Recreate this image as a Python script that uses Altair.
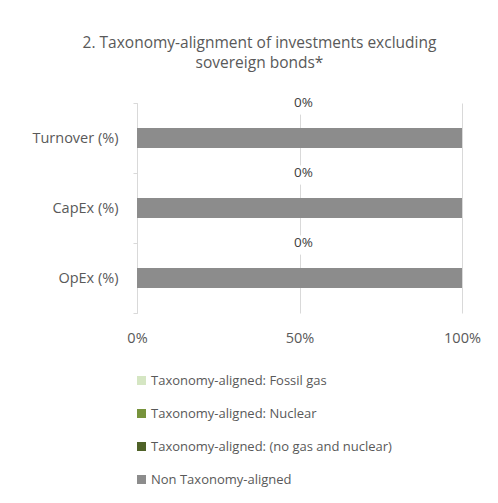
import altair as alt
import pandas as pd

categories = ["Turnover (%)", "CapEx (%)", "OpEx (%)"]
series = [
    "Taxonomy-aligned: Fossil gas",
    "Taxonomy-aligned: Nuclear",
    "Taxonomy-aligned: (no gas and nuclear)",
    "Non Taxonomy-aligned",
]
colors = ["#D5E6C3", "#77933C", "#4F6228", "#8C8C8C"]
fossil_gas = [0.0, 0.0, 0.0]
nuclear = [0.0, 0.0, 0.0]
no_gas_nuclear = [0.0, 0.0, 0.0]
non_aligned = [1.0, 1.0, 1.0]
aligned_label = [0.0, 0.0, 0.0]

rows = []
for i, c in enumerate(categories):
    for s, vals in zip(series, [fossil_gas, nuclear, no_gas_nuclear, non_aligned]):
        rows.append({"category": c, "series": s, "value": vals[i], "order": series.index(s)})
df = pd.DataFrame(rows)
lab = pd.DataFrame({"category": categories, "value": aligned_label, "pos": [0.5] * 3})

FONT = "Open Sans"
GREY = "#595959"

y_enc = alt.Y(
    "category:N",
    sort=categories,
    title=None,
    scale=alt.Scale(domain=categories, paddingInner=0, paddingOuter=0),
    axis=alt.Axis(
        tickBand="extent",
        tickSize=4,
        tickColor="#D9D9D9",
        domainColor="#D9D9D9",
        labelColor=GREY,
        labelFont=FONT,
        labelFontSize=14.5,
        labelPadding=15,
        grid=False,
    ),
)

bars = alt.Chart(df).mark_bar(size=20).encode(
    x=alt.X(
        "value:Q",
        stack="zero",
        title=None,
        scale=alt.Scale(domain=[0, 1], nice=False),
        axis=alt.Axis(
            values=[0, 0.5, 1],
            format="%",
            domain=False,
            ticks=False,
            grid=True,
            gridColor="#D9D9D9",
            labelColor=GREY,
            labelFont=FONT,
            labelFontSize=14.5,
            labelFlush=False,
            labelPadding=18,
        ),
    ),
    y=y_enc,
    color=alt.Color(
        "series:N",
        scale=alt.Scale(domain=series, range=colors),
        legend=alt.Legend(
            title=None,
            orient="none",
            legendX=-2,
            legendY=271,
            symbolType="square",
            symbolSize=81,
            symbolStrokeWidth=0,
            labelColor=GREY,
            labelFont=FONT,
            labelFontSize=13,
            labelLimit=0,
            rowPadding=19,
            labelOffset=3,
        ),
    ),
    order=alt.Order("order:Q"),
)

bg = alt.Chart(lab).mark_point(
    shape="M-1,-0.8H1V0.8H-1Z", filled=True, color="white", opacity=1, size=576, yOffset=-33, xOffset=4
).encode(x="pos:Q", y=alt.Y("category:N", sort=categories))

txt = alt.Chart(lab).mark_text(
    font=FONT, fontSize=13.5, color="#404040", yOffset=-35, xOffset=4
).encode(x="pos:Q", y=alt.Y("category:N", sort=categories), text=alt.Text("value:Q", format=".0%"))

chart = alt.layer(bars, bg, txt).properties(
    width=325,
    height=210,
    title=alt.TitleParams(
        ["2. Taxonomy-alignment of investments excluding", "sovereign bonds*"],
        font=FONT,
        fontSize=15.5,
        fontWeight="normal",
        color=GREY,
        anchor="middle",
        dx=-40,
        offset=24,
        lineHeight=20,
    ),
    padding={"left": 129, "top": 95, "right": 28, "bottom": 182},
    autosize=alt.AutoSizeParams(type="none"),
).configure_view(stroke=None)

chart.save("out.html", embed_options={"renderer": "svg", "actions": False})
